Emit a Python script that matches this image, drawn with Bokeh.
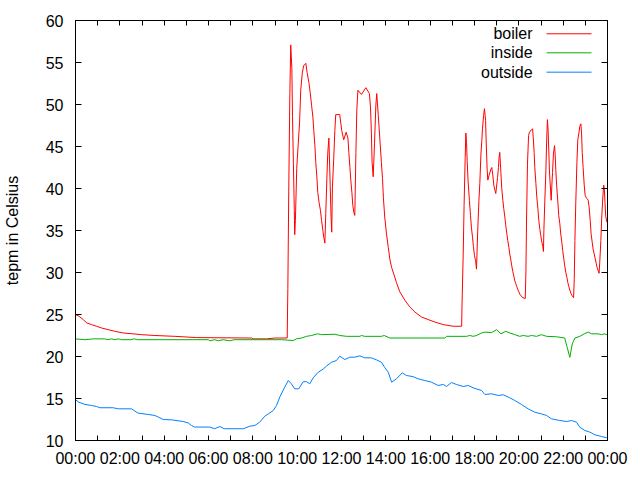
from bokeh.plotting import figure
from bokeh.models import Range1d, FixedTicker, LinearAxis, Label, Arrow
from bokeh.embed import file_html
from bokeh.resources import INLINE

# ---- data (hours since midnight, temperature in Celsius) ----
boiler_hours = [0.00, 0.15, 0.35, 0.50, 0.72, 0.95, 1.17, 1.47, 1.77, 2.15, 2.60, 2.98, 3.58, 4.48, 5.46, 7.94, 8.02, 8.62, 8.99, 9.55,
    9.58, 9.62, 9.67, 9.71, 9.76, 9.79, 9.83, 9.87, 9.89, 9.92, 9.98, 10.05, 10.11, 10.16, 10.23, 10.29, 10.39, 10.45, 10.53, 10.59,
    10.65, 10.71, 10.75, 10.80, 10.84, 10.89, 10.93, 10.99, 11.05, 11.10, 11.16, 11.20, 11.25, 11.29, 11.34, 11.38, 11.43, 11.49, 11.53, 11.56,
    11.59, 11.65, 11.70, 11.74, 11.92, 12.01, 12.10, 12.21, 12.29, 12.33, 12.38, 12.42, 12.47, 12.51, 12.56, 12.60, 12.65, 12.69, 12.74, 12.90,
    13.10, 13.26, 13.31, 13.35, 13.38, 13.43, 13.49, 13.55, 13.59, 13.66, 13.70, 13.75, 13.80, 13.85, 13.89, 13.95, 14.03, 14.11, 14.18, 14.26,
    14.36, 14.48, 14.63, 14.86, 15.08, 15.31, 15.61, 15.91, 16.21, 16.59, 17.04, 17.42,
    17.44, 17.49, 17.53, 17.58, 17.61, 17.64, 17.67, 17.71, 17.77, 17.82, 17.86, 17.91, 17.95, 18.00, 18.05, 18.09, 18.15, 18.20, 18.24, 18.29,
    18.33, 18.36, 18.41, 18.45, 18.50, 18.53, 18.57, 18.60, 18.65, 18.74, 18.78, 18.83, 18.87, 18.92, 18.96, 19.04, 19.08, 19.11, 19.14, 19.19,
    19.23, 19.28, 19.32, 19.37, 19.41, 19.46, 19.50, 19.55, 19.59, 19.64, 19.68, 19.73, 19.77, 19.82, 19.86, 19.91, 19.95, 20.00, 20.05, 20.14,
    20.18, 20.29, 20.32, 20.35, 20.39, 20.44, 20.48, 20.57, 20.62, 20.65, 20.69, 20.72, 20.77, 20.81, 20.86, 20.90, 20.95, 20.99, 21.04, 21.08,
    21.11, 21.13, 21.17, 21.22, 21.26, 21.29, 21.32, 21.35, 21.38, 21.43, 21.46, 21.49, 21.52, 21.56, 21.61, 21.64, 21.67, 21.71, 21.76, 21.80,
    21.85, 21.89, 21.94, 21.98, 22.03, 22.07, 22.12, 22.17, 22.21, 22.26, 22.30, 22.35, 22.39, 22.47, 22.50, 22.53, 22.57, 22.62, 22.66, 22.71,
    22.75, 22.80, 22.83, 22.86, 22.90, 22.95, 22.99, 23.04, 23.08, 23.13, 23.17, 23.22, 23.26, 23.31, 23.35, 23.40, 23.44, 23.49, 23.53, 23.58,
    23.62, 23.65, 23.70, 23.74, 23.79, 23.83, 23.86, 23.89, 23.92, 23.97]
boiler_temp = [25.0, 24.8, 24.4, 24.0, 23.8, 23.6, 23.4, 23.2, 23.0, 22.8, 22.7, 22.6, 22.5, 22.4, 22.25, 22.2, 22.1, 22.1, 22.2, 22.2,
    28.1, 39.6, 51.3, 57.1, 54.3, 48.6, 43.0, 37.4, 34.5, 36.2, 42.4, 45.4, 47.9, 51.7, 53.7, 54.6, 54.9, 53.8, 52.6, 51.4,
    49.9, 48.5, 46.9, 45.1, 43.1, 41.3, 39.5, 38.3, 37.4, 36.2, 35.0, 34.2, 33.5, 37.0, 41.2, 44.2, 46.0, 40.4, 36.5, 34.8,
    40.1, 43.6, 46.9, 48.8, 48.8, 46.9, 45.8, 46.7, 46.0, 44.3, 42.5, 41.0, 39.5, 38.0, 37.1, 36.8, 44.3, 49.3, 51.7, 51.2,
    52.0, 51.3, 49.6, 46.5, 43.1, 41.4, 45.4, 49.9, 51.3, 48.7, 47.1, 45.1, 43.1, 41.2, 38.9, 36.6, 34.6, 33.0, 31.6, 30.6,
    29.8, 28.8, 27.7, 26.7, 25.9, 25.3, 24.7, 24.4, 24.1, 23.8, 23.6, 23.6,
    26.5, 32.1, 38.0, 43.7, 46.6, 45.5, 43.3, 40.9, 38.6, 36.8, 35.4, 34.2, 33.1, 32.0, 31.4, 30.4, 35.3, 38.6, 40.6, 44.1,
    45.7, 47.1, 48.7, 49.5, 48.1, 45.3, 42.3, 41.0, 41.5, 42.3, 42.5, 41.5, 40.4, 39.8, 39.4, 41.3, 42.5, 43.7, 44.3, 41.9,
    40.0, 38.6, 37.6, 36.6, 35.6, 34.6, 33.8, 33.0, 32.2, 31.5, 30.8, 30.1, 29.6, 29.0, 28.7, 28.3, 28.0, 27.7, 27.4, 27.1,
    27.0, 26.9, 30.2, 36.6, 42.9, 46.3, 46.7, 47.0, 47.1, 46.1, 44.3, 42.5, 40.6, 39.0, 37.6, 36.2, 35.1, 34.4, 33.6, 33.1,
    32.5, 35.0, 38.4, 42.1, 46.1, 48.2, 47.0, 44.6, 42.1, 39.8, 38.6, 40.4, 41.9, 44.1, 45.1, 44.0, 42.1, 40.2, 38.4, 36.8,
    35.8, 34.6, 33.6, 32.6, 31.6, 30.8, 30.0, 29.4, 28.8, 28.3, 27.9, 27.5, 27.3, 27.0, 29.2, 33.8, 38.4, 43.1, 45.8, 46.6,
    47.4, 47.7, 46.5, 44.3, 42.5, 40.4, 39.2, 38.9, 38.8, 38.6, 37.8, 36.2, 34.6, 33.6, 32.8, 32.2, 31.7, 31.1, 30.6, 30.2,
    29.9, 31.2, 33.8, 36.6, 39.0, 40.4, 39.8, 38.2, 36.7, 36.0]

inside_hours = [0.00, 0.42, 0.80, 1.32, 1.47, 1.62, 1.77, 1.93, 2.08, 2.50, 2.65, 2.80, 5.99, 6.06, 6.28, 6.44, 6.66, 6.96, 7.16, 9.29,
    9.82, 9.97, 10.20, 10.42, 10.65, 10.92, 11.10, 11.70, 11.92, 12.23, 12.83, 12.90, 13.05, 13.80, 13.93, 14.18, 16.66, 16.74, 17.64, 17.79,
    17.94, 18.09, 18.32, 18.47, 18.77, 19.00, 19.19, 19.41, 19.59, 19.82, 20.04, 20.20, 20.42, 20.57, 20.80, 21.02, 21.25, 21.70, 22.07, 22.18,
    22.30, 22.41, 22.53, 22.75, 22.95, 23.13, 23.28, 23.58, 23.73, 23.85, 23.97]
inside_temp = [22.1, 22.0, 22.1, 22.1, 22.0, 22.1, 22.0, 22.1, 22.0, 22.0, 22.1, 22.0, 22.0, 21.87, 22.0, 21.87, 22.0, 21.87, 22.0, 22.0,
    21.9, 22.1, 22.2, 22.4, 22.5, 22.7, 22.6, 22.65, 22.5, 22.4, 22.4, 22.5, 22.4, 22.4, 22.5, 22.2, 22.2, 22.4, 22.4, 22.5,
    22.4, 22.5, 22.8, 22.9, 22.85, 23.2, 22.7, 23.0, 22.8, 22.6, 22.4, 22.5, 22.4, 22.5, 22.4, 22.6, 22.4, 22.35, 22.2, 21.1,
    19.9, 21.5, 22.2, 22.4, 22.7, 22.9, 22.7, 22.7, 22.6, 22.7, 22.6]

outside_hours = [0.00, 0.15, 0.42, 0.72, 0.95, 1.10, 1.70, 1.93, 2.53, 2.68, 2.83, 3.28, 3.58, 3.73, 3.96, 4.33, 4.86, 5.08, 5.23, 5.38,
    6.06, 6.28, 6.51, 6.71, 7.57, 7.86, 8.09, 8.31, 8.54, 8.72, 8.92, 9.07, 9.22, 9.44, 9.60, 9.74, 9.89, 10.07, 10.27, 10.42,
    10.57, 10.72, 10.95, 11.17, 11.32, 11.55, 11.77, 11.92, 12.15, 12.37, 12.60, 12.83, 13.05, 13.35, 13.58, 13.80, 13.95, 14.11, 14.26, 14.48,
    14.74, 14.93, 15.23, 15.46, 15.76, 16.06, 16.36, 16.59, 16.74, 16.96, 17.19, 17.49, 17.72, 17.94, 18.32, 18.47, 18.77, 19.07, 19.30, 19.59,
    19.82, 20.12, 20.42, 20.72, 21.02, 21.25, 21.47, 21.85, 22.15, 22.38, 22.60, 22.75, 22.98, 23.20, 23.43, 23.73, 23.97]
outside_temp = [14.85, 14.56, 14.3, 14.17, 14.05, 13.9, 13.9, 13.77, 13.77, 13.5, 13.25, 13.1, 12.98, 12.8, 12.5, 12.46, 12.26, 12.1, 11.79, 11.6,
    11.6, 11.4, 11.67, 11.4, 11.4, 11.7, 11.79, 12.18, 12.9, 13.2, 13.57, 14.17, 15.2, 16.35, 17.14, 16.75, 16.15, 16.15, 17.0, 17.0,
    16.75, 17.46, 18.13, 18.5, 18.85, 19.32, 19.52, 20.04, 19.64, 19.92, 19.92, 20.08, 19.84, 19.84, 19.6, 19.32, 18.7, 18.13, 16.94, 17.34,
    18.06, 17.74, 17.6, 17.34, 17.14, 16.94, 16.55, 16.67, 16.43, 16.9, 16.67, 16.43, 16.55, 16.27, 15.95, 15.48, 15.56, 15.36, 15.45, 15.08,
    14.76, 14.29, 13.77, 13.37, 13.17, 12.98, 12.58, 12.38, 12.26, 12.38, 12.18, 11.59, 11.19, 11.0, 10.68, 10.48, 10.32]

series_names = ["boiler", "inside", "outside"]
hour_ticks = list(range(0, 25))
hour_labels = ["00:00", "02:00", "04:00", "06:00", "08:00", "10:00", "12:00",
               "14:00", "16:00", "18:00", "20:00", "22:00", "00:00"]
temp_ticks = [10, 15, 20, 25, 30, 35, 40, 45, 50, 55, 60]

# ---- styling ----
FONT = "Liberation Sans"
FS = "16px"
colors = ["#ff0000", "#00b000", "#0080ff"]

p = figure(frame_width=532, frame_height=420,
           x_range=Range1d(0, 24), y_range=Range1d(10, 60),
           output_backend="svg", toolbar_location=None,
           min_border_left=74, min_border_top=20, min_border_right=24, min_border_bottom=32,
           x_axis_location=None, y_axis_location=None)
p.xgrid.visible = False
p.ygrid.visible = False
p.outline_line_color = "black"
p.outline_line_width = 1
p.background_fill_color = "white"
p.border_fill_color = "white"

overrides = {}
for h in hour_ticks:
    overrides[h] = hour_labels[h // 2] if h % 2 == 0 else ""


def style_axis(ax, labels=True):
    ax.axis_line_color = "black"
    ax.major_tick_line_color = "black"
    ax.major_tick_in = 6
    ax.major_tick_out = 0
    ax.minor_tick_line_color = None
    ax.major_label_text_font = FONT
    ax.major_label_text_color = "black"
    ax.major_label_text_font_size = FS if labels else "0px"
    if not labels:
        ax.major_label_standoff = 0


xb = LinearAxis(ticker=FixedTicker(ticks=hour_ticks), major_label_overrides=overrides)
style_axis(xb)
xb.major_tick_in = 5
xb.major_label_standoff = 9
p.add_layout(xb, "below")

xt = LinearAxis(ticker=FixedTicker(ticks=hour_ticks))
style_axis(xt, labels=False)
xt.major_tick_in = 5
xt.major_label_overrides = {h: "" for h in hour_ticks}
p.add_layout(xt, "above")

yl = LinearAxis(ticker=FixedTicker(ticks=temp_ticks), axis_label="tepm in Celsius")
style_axis(yl)
yl.major_label_standoff = 12
yl.axis_label_text_font = FONT
yl.axis_label_text_font_size = FS
yl.axis_label_text_font_style = "normal"
yl.axis_label_text_color = "black"
yl.axis_label_standoff = 22
p.add_layout(yl, "left")

yr = LinearAxis(ticker=FixedTicker(ticks=temp_ticks))
style_axis(yr, labels=False)
yr.major_label_overrides = {t: "" for t in temp_ticks}
p.add_layout(yr, "right")

p.line(boiler_hours, boiler_temp, line_color=colors[0], line_width=1)
p.line(inside_hours, inside_temp, line_color=colors[1], line_width=1)
p.line(outside_hours, outside_temp, line_color=colors[2], line_width=1)

# gnuplot-style key: label right-aligned, sample line to its right
key_text_x = 20.62
key_line_x0, key_line_x1 = 21.25, 23.28
key_rows = [58.42, 56.15, 53.85]
for name, col, yk in zip(series_names, colors, key_rows):
    p.add_layout(Label(x=key_text_x, y=yk, text=name, text_align="right", text_baseline="middle",
                       text_font=FONT, text_font_size=FS, text_color="black"))
    p.add_layout(Arrow(end=None, x_start=key_line_x0, y_start=yk, x_end=key_line_x1, y_end=yk,
                       line_color=col, line_width=1))

open("out.html", "w").write(file_html(p, INLINE))
